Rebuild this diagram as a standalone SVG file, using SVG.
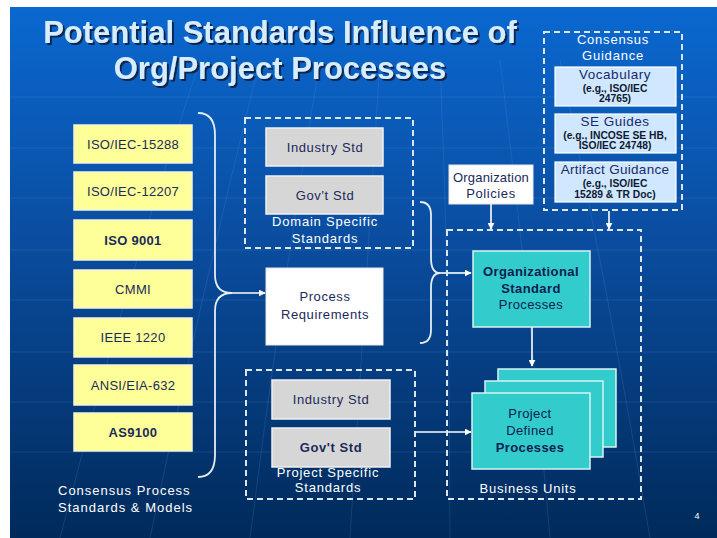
<svg xmlns="http://www.w3.org/2000/svg" width="717" height="538" viewBox="0 0 717 538">
<defs>
<linearGradient id="bg" x1="0" y1="0" x2="0" y2="1">
<stop offset="0" stop-color="#0a68d0"/>
<stop offset="0.45" stop-color="#0a4c9e"/>
<stop offset="1" stop-color="#002a5a"/>
</linearGradient>
<filter id="shadow" x="-5%" y="-20%" width="110%" height="150%">
<feDropShadow dx="2" dy="2" stdDeviation="0.6" flood-color="#0a1f40" flood-opacity="0.9"/>
</filter>
<marker id="arr" viewBox="0 0 10 10" refX="9" refY="5" markerWidth="7" markerHeight="7" orient="auto" markerUnits="userSpaceOnUse">
<path d="M0,0 L10,5 L0,10 z" fill="#ffffff"/>
</marker>
<style>
.title{font-family:"Liberation Sans",Arial,sans-serif;font-weight:bold;font-size:31px;fill:#d6ecff;text-anchor:middle}
.yb{fill:#ffff99;stroke:#f2f2e0;stroke-width:1.5}
.yt{font-family:"Liberation Sans",Arial,sans-serif;font-size:13px;fill:#1a2a5a;text-anchor:middle;letter-spacing:0.3px}
.gb{fill:#d6d6d6;stroke:#f0f0f0;stroke-width:1.5}
.gt{font-family:"Liberation Sans",Arial,sans-serif;font-size:13px;fill:#1a2a5a;text-anchor:middle;letter-spacing:0.6px}
.wb{fill:#ffffff;stroke:#e8e8e8;stroke-width:1}
.wl{font-family:"Liberation Sans",Arial,sans-serif;font-size:13px;fill:#ffffff;text-anchor:middle;letter-spacing:0.8px}
.wll{font-family:"Liberation Sans",Arial,sans-serif;font-size:13px;fill:#ffffff;letter-spacing:1px}
.dash{fill:none;stroke:#dbe6f0;stroke-width:2;stroke-dasharray:6 4}
.lb{fill:#cfe8ff;stroke:#ffffff;stroke-width:1.2}
.lt{font-family:"Liberation Sans",Arial,sans-serif;font-size:13.5px;fill:#1a2a6a;text-anchor:middle;letter-spacing:0.5px}
.st{font-family:"Liberation Sans",Arial,sans-serif;font-size:10.3px;font-weight:bold;fill:#101830;text-anchor:middle}
.tb{fill:#33cccc;stroke:#d8f4f4;stroke-width:1.5}
.tt{font-family:"Liberation Sans",Arial,sans-serif;font-size:13px;fill:#0c2050;text-anchor:middle;letter-spacing:0.4px}
.conn{fill:none;stroke:#ffffff;stroke-width:1.6}
.brace{fill:none;stroke:#e4ecf4;stroke-width:1.8}
.grid{stroke:#6aa0e0;stroke-opacity:0.18;stroke-width:1;fill:none}
</style>
</defs>
<rect x="0" y="0" width="717" height="538" fill="#ffffff"/>
<rect x="10" y="7" width="707" height="531" fill="url(#bg)"/>
<g id="grid">
<path class="grid" d="M10,97 H717 M10,148 H717 M10,198 H717 M10,250 H717 M10,300 H717 M10,352 H717 M10,402 H717 M10,452 H717"/>
<path class="grid" d="M60,538 Q120,300 200,60 M150,538 Q200,300 260,60 M250,538 Q280,300 320,60 M350,538 Q365,300 380,60 M450,538 Q450,300 440,60 M550,538 Q530,300 500,60 M650,538 Q610,300 560,60"/>
</g>
<g id="title" filter="url(#shadow)">
<text class="title" x="280" y="43">Potential Standards Influence of</text>
<text class="title" x="280" y="79">Org/Project Processes</text>
</g>

<g id="connectors">
<path class="brace" d="M198,113 Q215,113 215,135 L215,275 Q215,293 232,293 Q215,293 215,311 L215,455 Q215,477 198,477"/>
<line class="conn" x1="232" y1="293" x2="265" y2="293" marker-end="url(#arr)"/>
<path class="brace" d="M420,202 Q431,202 431,215 L431,258 Q431,273 440,273 Q431,273 431,288 L431,330 Q431,343 420,343"/>
<line class="conn" x1="440" y1="273" x2="471" y2="273" marker-end="url(#arr)"/>
<line class="conn" x1="415" y1="432" x2="471" y2="432" marker-end="url(#arr)"/>
<line class="conn" x1="491" y1="204" x2="491" y2="229" marker-end="url(#arr)"/>
<line class="conn" x1="609" y1="211" x2="609" y2="229" marker-end="url(#arr)"/>
<line class="conn" x1="532" y1="327" x2="532" y2="366" marker-end="url(#arr)"/>
</g>

<g id="iso15288"><rect class="yb" x="74" y="125" width="118" height="38"/><text class="yt" x="133" y="149">ISO/IEC-15288</text></g>
<g id="iso12207"><rect class="yb" x="74" y="172" width="118" height="38"/><text class="yt" x="133" y="196">ISO/IEC-12207</text></g>
<g id="iso9001"><rect class="yb" x="74" y="220" width="118" height="40"/><text class="yt" x="133" y="245" font-weight="bold">ISO 9001</text></g>
<g id="cmmi"><rect class="yb" x="74" y="270" width="118" height="38"/><text class="yt" x="133" y="294">CMMI</text></g>
<g id="ieee1220"><rect class="yb" x="74" y="318" width="118" height="39"/><text class="yt" x="133" y="342">IEEE 1220</text></g>
<g id="ansi632"><rect class="yb" x="74" y="365" width="118" height="40"/><text class="yt" x="133" y="390">ANSI/EIA-632</text></g>
<g id="as9100"><rect class="yb" x="74" y="413" width="118" height="38"/><text class="yt" x="133" y="437" font-weight="bold">AS9100</text></g>
<g id="consensus-label">
<text class="wll" x="58" y="495">Consensus Process</text>
<text class="wll" x="58" y="512">Standards &amp; Models</text>
</g>

<g id="domain-specific">
<rect class="dash" x="245" y="118" width="168" height="130"/>
<text class="wl" x="325" y="226">Domain Specific</text>
<text class="wl" x="325" y="243">Standards</text>
</g>
<g id="domain-industry"><rect class="gb" x="266" y="128" width="117" height="38"/><text class="gt" x="325" y="152">Industry Std</text></g>
<g id="domain-govt"><rect class="gb" x="266" y="176" width="117" height="38"/><text class="gt" x="325" y="200">Gov't Std</text></g>

<g id="process-req">
<rect class="wb" x="266" y="268" width="117" height="77"/>
<text class="gt" x="325" y="301">Process</text>
<text class="gt" x="325" y="319">Requirements</text>
</g>

<g id="project-specific">
<rect class="dash" x="246" y="370" width="169" height="129"/>
<text class="wl" x="328" y="477">Project Specific</text>
<text class="wl" x="328" y="492">Standards</text>
</g>
<g id="project-industry"><rect class="gb" x="272" y="380" width="118" height="39"/><text class="gt" x="331" y="404">Industry Std</text></g>
<g id="project-govt"><rect class="gb" x="272" y="428" width="118" height="39"/><text class="gt" x="331" y="452" font-weight="bold">Gov't Std</text></g>

<g id="org-policies">
<rect class="wb" x="449" y="165" width="84" height="39"/>
<text class="gt" x="491" y="182" style="letter-spacing:0.2px">Organization</text>
<text class="gt" x="491" y="198">Policies</text>
</g>

<g id="consensus-guidance">
<rect class="dash" x="544" y="32" width="138" height="178"/>
<text class="wl" x="613" y="44">Consensus</text>
<text class="wl" x="613" y="60">Guidance</text>
</g>
<g id="vocabulary">
<rect class="lb" x="555" y="67" width="121" height="39"/>
<text class="lt" x="615" y="79">Vocabulary</text>
<text class="st" x="615" y="92">(e.g., ISO/IEC</text>
<text class="st" x="615" y="102">24765)</text>
</g>
<g id="se-guides">
<rect class="lb" x="555" y="114" width="121" height="39"/>
<text class="lt" x="615" y="126">SE Guides</text>
<text class="st" x="615" y="139">(e.g., INCOSE SE HB,</text>
<text class="st" x="615" y="149">ISO/IEC 24748)</text>
</g>
<g id="artifact-guidance">
<rect class="lb" x="555" y="162" width="121" height="40"/>
<text class="lt" x="615" y="174" style="letter-spacing:0.3px">Artifact Guidance</text>
<text class="st" x="615" y="187">(e.g., ISO/IEC</text>
<text class="st" x="615" y="198">15289 &amp; TR Doc)</text>
</g>

<g id="business-units">
<rect class="dash" x="447" y="230" width="194" height="269"/>
<text class="wl" x="528" y="493">Business Units</text>
</g>

<g id="org-standard">
<rect class="tb" x="473" y="251" width="117" height="76"/>
<text class="tt" x="531" y="276" font-weight="bold">Organizational</text>
<text class="tt" x="531" y="293" font-weight="bold">Standard</text>
<text class="tt" x="531" y="309">Processes</text>
</g>

<g id="project-defined">
<rect class="tb" x="498" y="369" width="118" height="78"/>
<rect class="tb" x="485" y="381" width="118" height="76"/>
<rect class="tb" x="472" y="393" width="118" height="76"/>
<text class="tt" x="530" y="418">Project</text>
<text class="tt" x="530" y="435">Defined</text>
<text class="tt" x="530" y="452" font-weight="bold">Processes</text>
</g>

<text x="697" y="519" font-family="Liberation Sans, Arial, sans-serif" font-size="9" fill="#ffffff" text-anchor="middle">4</text>
</svg>
